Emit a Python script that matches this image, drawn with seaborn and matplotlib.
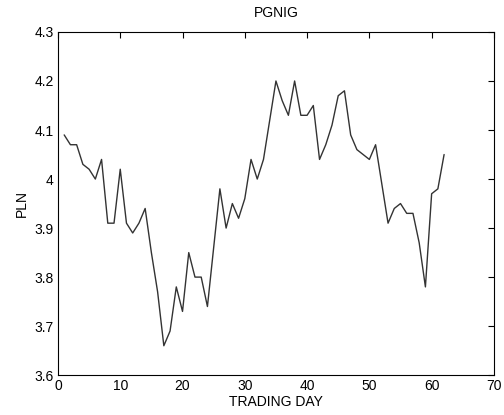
import matplotlib
matplotlib.use("Agg")
import matplotlib.pyplot as plt
import seaborn as sns
import pandas as pd

days = list(range(1, 63))
prices = [4.09, 4.07, 4.07, 4.03, 4.02, 4.00, 4.04, 3.91, 3.91, 4.02,
          3.91, 3.89, 3.91, 3.94, 3.85, 3.77, 3.66, 3.69, 3.78, 3.73,
          3.85, 3.80, 3.80, 3.74, 3.86, 3.98, 3.90, 3.95, 3.92, 3.96,
          4.04, 4.00, 4.04, 4.12, 4.20, 4.16, 4.13, 4.20, 4.13, 4.13,
          4.15, 4.04, 4.07, 4.11, 4.17, 4.18, 4.09, 4.06, 4.05, 4.04,
          4.07, 3.99, 3.91, 3.94, 3.95, 3.93, 3.93, 3.87, 3.78, 3.97,
          3.98, 4.05]
xticks = [0, 10, 20, 30, 40, 50, 60, 70]
yticks = [3.6, 3.7, 3.8, 3.9, 4.0, 4.1, 4.2, 4.3]
ytick_labels = ["3.6", "3.7", "3.8", "3.9", "4", "4.1", "4.2", "4.3"]

sns.set_theme(style="white")
plt.rcParams['font.family'] = ['Liberation Sans', 'DejaVu Sans']
plt.rcParams['xtick.direction'] = 'in'
plt.rcParams['ytick.direction'] = 'in'

df = pd.DataFrame({"day": days, "price": prices})

fig = plt.figure(figsize=(5.04, 4.15), dpi=100)
ax = fig.add_axes([0.115, 0.096, 0.865, 0.827])
sns.lineplot(data=df, x="day", y="price", ax=ax, color="#333333", linewidth=1.0)

ax.set_xlim(0, 70)
ax.set_ylim(3.6, 4.3)
ax.set_xticks(xticks)
ax.set_xticklabels([str(t) for t in xticks])
ax.set_yticks(yticks)
ax.set_yticklabels(ytick_labels)
ax.tick_params(axis='both', which='both', direction='in', length=4, width=0.8,
               colors='black', labelsize=10, top=True, right=True, pad=3)
for s in ax.spines.values():
    s.set_color('black')
    s.set_linewidth(0.8)
ax.set_xlabel("TRADING DAY", fontsize=10, color='black', labelpad=1)
ax.set_ylabel("PLN", fontsize=10, color='black', labelpad=4)
ax.set_title("PGNIG", fontsize=10, color='black', pad=11)
ax.grid(False)

fig.savefig("out.png", dpi=100, facecolor='white')
